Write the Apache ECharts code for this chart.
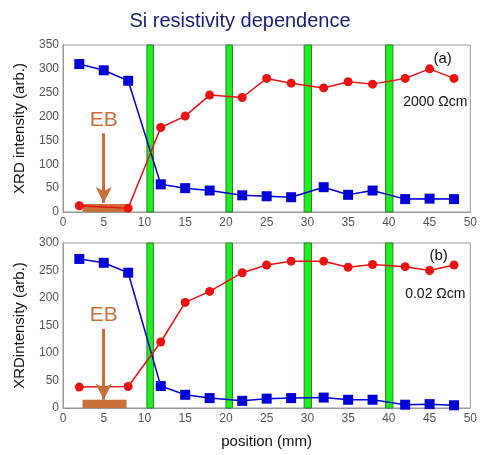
<!DOCTYPE html>
<html><head><meta charset="utf-8">
<script src="https://cdn.jsdelivr.net/npm/echarts@6/dist/echarts.min.js"></script>
<style>html,body{margin:0;padding:0;background:#fff}#c{width:480px;height:455px}</style>
</head><body><div id="c"></div>
<script>
// ---- data ----
const xBlue = [2, 5, 8, 12, 15, 18, 22, 25, 28, 32, 35, 38, 42, 45, 48];
const blueA = [310, 297, 275, 58, 50, 45, 35, 33, 31, 52, 36, 45, 27, 28, 27];
const xRed = [2, 8, 12, 15, 18, 22, 25, 28, 32, 35, 38, 42, 45, 48];
const redA = [13, 8, 177, 201, 245, 240, 280, 270, 260, 273, 268, 280, 300, 280];
const blueB = [271, 264, 246, 40, 24, 18, 13, 17, 18, 19, 15, 15, 6, 7, 5];
const redB = [38, 39, 120, 192, 212, 246, 260, 267, 267, 256, 261, 257, 250, 260];
const greenBands = [[10.3, 11.1], [20.0, 20.8], [29.6, 30.5], [39.6, 40.5]];
const ebRange = [2.4, 7.8];
const ebArrowX = 5;
const xTicks = [0, 50, 5];
const yTicksA = [0, 350, 50];
const yTicksB = [0, 300, 50];

const pair = (xs, ys) => xs.map((x, i) => [x, ys[i]]);
const BLUE = '#0000d8', RED = '#ee1111', BROWN = '#c9703a';
const FONT = 'Liberation Sans, Arial, sans-serif';

const chart = echarts.init(document.getElementById('c'), null, {renderer: 'canvas'});

function axisX(gi, showName) {
  return {
    type: 'value', gridIndex: gi, min: xTicks[0], max: xTicks[1], interval: xTicks[2],
    axisLine: {show: true, onZero: false, lineStyle: {color: '#999', width: 1}},
    axisTick: {show: false}, splitLine: {show: false},
    axisLabel: {color: '#555', fontSize: 12, fontFamily: FONT, margin: 5},
    name: showName ? 'position (mm)' : '', nameLocation: 'middle', nameGap: 26,
    nameTextStyle: {color: '#111', fontSize: 15, fontFamily: FONT}
  };
}
function axisY(gi, t, name) {
  return {
    type: 'value', gridIndex: gi, min: t[0], max: t[1], interval: t[2],
    axisLine: {show: true, lineStyle: {color: '#999', width: 1}},
    axisTick: {show: false}, splitLine: {show: false},
    axisLabel: {color: '#555', fontSize: 12, fontFamily: FONT, margin: 4},
    name: name, nameLocation: 'middle', nameGap: 36,
    nameTextStyle: {color: '#111', fontSize: 15, fontFamily: FONT}
  };
}
function lineS(gi, data, color) {
  return {type: 'line', xAxisIndex: gi, yAxisIndex: gi, data: data, showSymbol: false,
    lineStyle: {color: color, width: 1.5}, itemStyle: {color: color}, z: 2, animation: false, silent: true};
}
function markS(gi, data, color, sym) {
  return {type: 'scatter', xAxisIndex: gi, yAxisIndex: gi, data: data, symbol: sym, symbolSize: sym === 'rect' ? 10 : 9,
    itemStyle: {color: color, opacity: 1}, z: 4, animation: false, silent: true};
}
function bandS(gi, ymax) {
  return {type: 'line', xAxisIndex: gi, yAxisIndex: gi, data: [], z: 6, animation: false, silent: true,
    markArea: {silent: true, itemStyle: {color: '#1ef01e', opacity: 1, borderColor: '#2f7f2f', borderWidth: 1},
      data: greenBands.map(b => [{coord: [b[0], 0]}, {coord: [b[1], ymax]}])}};
}
function ebS(gi, barTop, arrowFrom, arrowTo, textY) {
  return {type: 'line', xAxisIndex: gi, yAxisIndex: gi, data: [], z: 3, animation: false, silent: true,
    markArea: {silent: true, itemStyle: {color: BROWN, opacity: 1},
      data: [[{coord: [ebRange[0], 0]}, {coord: [ebRange[1], barTop]}]]},
    markLine: {silent: true, symbol: ['none', 'arrow'], symbolSize: [12, 16],
      lineStyle: {color: BROWN, width: 3, type: 'solid', opacity: 1}, label: {show: false},
      data: [[{coord: [ebArrowX, arrowFrom]}, {coord: [ebArrowX, arrowTo]}]]},
    markPoint: {silent: true, symbol: 'circle', symbolSize: 1, itemStyle: {color: 'rgba(0,0,0,0)'},
      label: {show: true, position: 'inside', formatter: 'EB', color: BROWN, fontSize: 21, fontFamily: FONT},
      data: [{coord: [ebArrowX, textY]}]}};
}
function noteS(gi, notes) {
  return {type: 'line', xAxisIndex: gi, yAxisIndex: gi, data: [], z: 7, animation: false, silent: true,
    markPoint: {silent: true, symbol: 'circle', symbolSize: 1, itemStyle: {color: 'rgba(0,0,0,0)'},
      data: notes.map(n => ({coord: n.c, label: {show: true, position: 'inside', formatter: n.t,
        color: '#111', fontSize: n.s, fontFamily: FONT}}))}};
}

chart.setOption({
  backgroundColor: '#fff',
  animation: false,
  title: {text: 'Si resistivity dependence', left: 'center', top: 6,
    textStyle: {color: '#1a1a80', fontSize: 20, fontWeight: 'normal', fontFamily: FONT}},
  grid: [
    {left: 63, right: 8, top: 45, height: 167, show: true, borderColor: '#999', borderWidth: 1, backgroundColor: 'transparent'},
    {left: 63, right: 8, top: 243, height: 165, show: true, borderColor: '#999', borderWidth: 1, backgroundColor: 'transparent'}
  ],
  xAxis: [axisX(0, false), axisX(1, true)],
  yAxis: [axisY(0, yTicksA, 'XRD intensity (arb.)'), axisY(1, yTicksB, 'XRDintensity (arb.)')],
  series: [
    lineS(0, pair(xBlue, blueA), BLUE), lineS(0, pair(xRed, redA), RED),
    ebS(0, 17, 165, 19, 193),
    markS(0, pair(xBlue, blueA), BLUE, 'rect'), markS(0, pair(xRed, redA), RED, 'circle'),
    bandS(0, 350),
    noteS(0, [{c: [46.6, 320], t: '(a)', s: 15}, {c: [45.7, 230], t: '2000 Ωcm', s: 14}]),
    lineS(1, pair(xBlue, blueB), BLUE), lineS(1, pair(xRed, redB), RED),
    ebS(1, 15, 144, 15, 169),
    markS(1, pair(xBlue, blueB), BLUE, 'rect'), markS(1, pair(xRed, redB), RED, 'circle'),
    bandS(1, 300),
    noteS(1, [{c: [46.1, 276], t: '(b)', s: 15}, {c: [45.7, 207], t: '0.02 Ωcm', s: 14}])
  ]
});
</script></body></html>
